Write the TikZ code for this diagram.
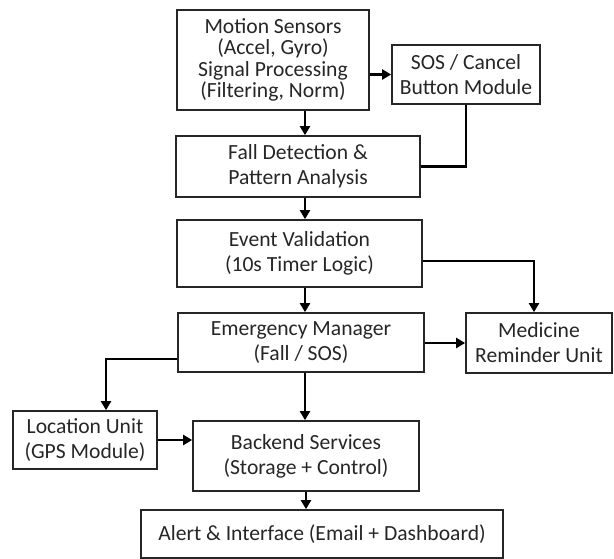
\documentclass[tikz,border=0pt]{standalone}
\usepackage{fontspec}
\setmainfont{Carlito}
\usetikzlibrary{arrows.meta,calc}
\begin{document}
\begin{tikzpicture}[x=1pt,y=-1pt,
  blk/.style={draw=black!85,line width=1.7pt,align=center,inner sep=0pt,text=black!85,font=\fontsize{21.6}{25}\selectfont},
  arr/.style={draw=black,line width=2.6pt,-{Triangle[length=9pt,width=10pt]}},
  conn/.style={draw=black,line width=2.6pt}]
\useasboundingbox (0,0) rectangle (614,559);
\coordinate (spine) at (305,0);
\node[blk,minimum width=192pt,minimum height=100pt,font=\fontsize{21.6}{21.5}\selectfont] (m) at (273,60)
  {Motion Sensors\\(Accel, Gyro)\\Signal Processing\\(Filtering, Norm)};
\node[blk,minimum width=148pt,minimum height=59pt] (sos) at (466,74.5) {SOS / Cancel\\Button Module};
\node[blk,minimum width=244pt,minimum height=61pt] (fall) at (298,166.5) {Fall Detection \&\\Pattern Analysis};
\node[blk,minimum width=245pt,minimum height=67pt] (event) at (299.5,253.5) {Event Validation\\(10s Timer Logic)};
\node[blk,minimum width=246pt,minimum height=59pt] (emg) at (301,342.5) {Emergency Manager\\(Fall / SOS)};
\node[blk,minimum width=146pt,minimum height=60pt] (med) at (539,343) {Medicine\\Reminder Unit};
\node[blk,minimum width=144pt,minimum height=58pt] (loc) at (85,440) {Location Unit\\(GPS Module)};
\node[blk,minimum width=226pt,minimum height=70pt] (back) at (306,456) {Backend Services\\(Storage + Control)};
\node[blk,minimum width=362pt,minimum height=48pt] (alert) at (322,534) {Alert \& Interface (Email + Dashboard)};
\draw[arr] (m.east |- sos.west) -- (sos.west);
\draw[arr] (m.south -| spine) -- (fall.north -| spine);
\draw[conn] (sos.south) |- (fall.east);
\draw[arr] (fall.south -| spine) -- (event.north -| spine);
\draw[arr] ([yshift=-7.5pt]event.east) -| ([xshift=-5pt]med.north);
\draw[arr] (event.south -| spine) -- (emg.north -| spine);
\draw[arr] (emg.east |- med.west) -- (med.west);
\draw[arr] ([yshift=-16.5pt]emg.west) -| ([xshift=21pt]loc.north);
\draw[arr] (emg.south -| spine) -- (back.north -| spine);
\draw[arr] (loc.east) -- (loc.east -| back.west);
\draw[arr] (back.south) -- (back.south |- alert.north);
\end{tikzpicture}
\end{document}
